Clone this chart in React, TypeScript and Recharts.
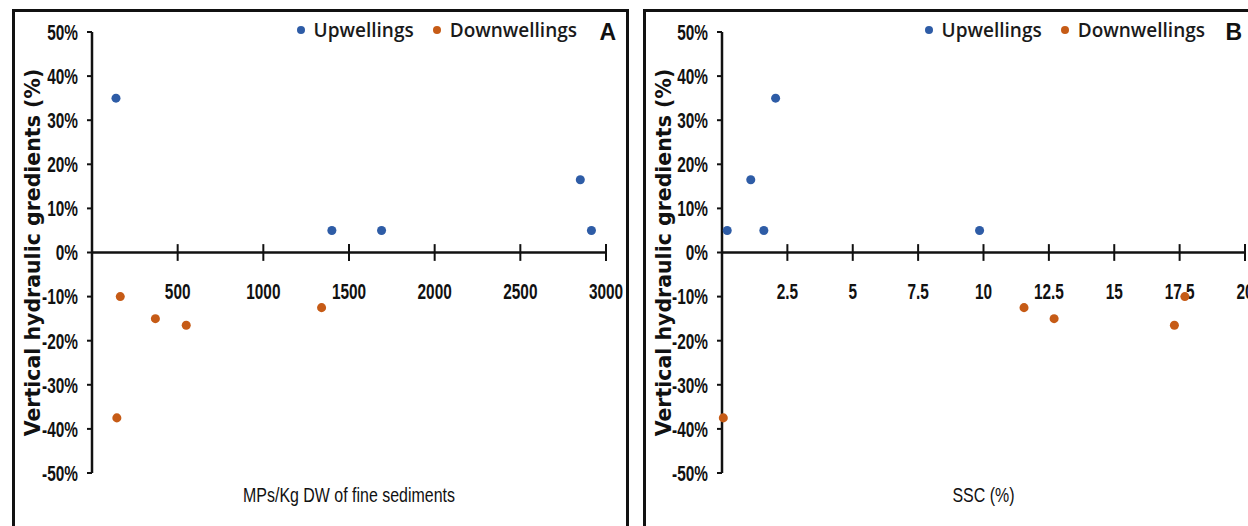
import { Label, Legend, ReferenceLine, Scatter, ScatterChart, XAxis, YAxis, ZAxis } from 'recharts';

// y values are vertical hydraulic gradients in %
const upA = [
  { x: 140, y: 35 },
  { x: 1400, y: 5 },
  { x: 1690, y: 5 },
  { x: 2850, y: 16.5 },
  { x: 2915, y: 5 }
];
const downA = [
  { x: 165, y: -10 },
  { x: 370, y: -15 },
  { x: 550, y: -16.5 },
  { x: 1340, y: -12.5 },
  { x: 145, y: -37.5 }
];
const upB = [
  { x: 0.2, y: 5 },
  { x: 1.1, y: 16.5 },
  { x: 1.6, y: 5 },
  { x: 2.05, y: 35 },
  { x: 9.85, y: 5 }
];
const downB = [
  { x: 0.05, y: -37.5 },
  { x: 11.55, y: -12.5 },
  { x: 12.7, y: -15 },
  { x: 17.3, y: -16.5 },
  { x: 17.7, y: -10 }
];

const yTicks = [-50, -40, -30, -20, -10, 0, 10, 20, 30, 40, 50];
const xTicksA = [500, 1000, 1500, 2000, 2500, 3000];
const xTicksB = [2.5, 5, 7.5, 10, 12.5, 15, 17.5, 20];
const seriesOrder = ['Upwellings', 'Downwellings'];

const BLUE = '#2E5CA6';
const ORANGE = '#C65B16';
const ARIAL = "'Liberation Sans', Arial, sans-serif";

// condensed look of the original's Calibri-style labels
const NarrowText = ({ x, y, text, anchor = 'middle', bold = true, size = 22, sx = 0.7, dy = '0.355em' }: any) => (
  <text
    transform={`translate(${x},${y}) scale(${sx},1)`}
    textAnchor={anchor}
    dy={dy}
    fill="#111"
    fontFamily={ARIAL}
    fontWeight={bold ? 700 : 400}
    fontSize={size}
  >
    {text}
  </text>
);

const YTick = ({ x, y, payload }: any) => <NarrowText x={x} y={y} text={`${payload.value}%`} anchor="end" />;

const LegendBox = ({ payload }: any) => {
  const items = seriesOrder.map((name) => (payload || []).find((p: any) => p.value === name)).filter(Boolean);
  return (
    <div style={{ display: 'flex', justifyContent: 'flex-end', gap: 19, fontFamily: "'Open Sans', sans-serif", fontWeight: 600, fontSize: 19, color: '#1a1a1a' }}>
      {items.map((item: any) => (
        <span key={item.value} style={{ display: 'flex', alignItems: 'center', gap: 9 }}>
          <svg width={8} height={8}>
            <circle cx={4} cy={4} r={4} fill={item.color} />
          </svg>
          {item.value}
        </span>
      ))}
    </div>
  );
};

function Panel({ left, width, yAxisWidth, up, down, xMax, xTicks, title, legendRight, letterRight, letter }: any) {
  return (
    <div style={{ position: 'absolute', left, top: 9, width, height: 517 }}>
      <ScatterChart width={width} height={517} margin={{ top: 23, right: 23, bottom: 13, left: 0 }}>
        <XAxis type="number" dataKey="x" domain={[0, xMax]} axisLine={false} tickLine={false} tick={false} height={40}>
          <Label
            position="insideTop"
            content={({ viewBox }: any) => (
              <NarrowText x={viewBox.x + viewBox.width / 2} y={viewBox.y + 22} text={title} bold={false} size={21} sx={0.76} />
            )}
          />
        </XAxis>
        <YAxis
          type="number"
          dataKey="y"
          domain={[-50, 50]}
          ticks={yTicks}
          width={yAxisWidth}
          axisLine={{ stroke: '#111', strokeWidth: 2.5 }}
          tickLine={{ stroke: '#111', strokeWidth: 2 }}
          tickSize={5}
          tickMargin={9}
          tick={<YTick />}
        >
          <Label
            value="Vertical hydraulic gredients (%)"
            angle={-90}
            position="insideLeft"
            offset={21}
            style={{ textAnchor: 'middle', fontFamily: "'DejaVu Sans', sans-serif", fontWeight: 700, fontSize: 20.5, fill: '#111' }}
          />
        </YAxis>
        <ZAxis range={[70, 70]} />
        <ReferenceLine y={0} stroke="#111" strokeWidth={2.5} />
        {xTicks.map((t: number) => (
          <ReferenceLine
            key={t}
            segment={[{ x: t, y: -1.9 }, { x: t, y: 1.9 }]}
            stroke="#111"
            strokeWidth={2}
            label={({ viewBox }: any) => (
              <NarrowText x={viewBox.x + viewBox.width / 2} y={viewBox.y + viewBox.height + 30} text={String(t)} />
            )}
          />
        ))}
        <Legend
          layout="horizontal"
          verticalAlign="middle"
          align="center"
          wrapperStyle={{ top: 8, right: legendRight }}
          content={<LegendBox />}
        />
        <Scatter name="Upwellings" data={up} fill={BLUE} isAnimationActive={false} />
        <Scatter name="Downwellings" data={down} fill={ORANGE} isAnimationActive={false} />
      </ScatterChart>
      <div style={{ position: 'absolute', top: 10, right: letterRight, fontFamily: ARIAL, fontWeight: 700, fontSize: 23, color: '#111' }}>
        {letter}
      </div>
    </div>
  );
}

export default function App() {
  return (
    <div style={{ position: 'absolute', left: 0, top: 0, width: 1248, height: 526, overflow: 'hidden', background: '#fff' }}>
      <div style={{ position: 'absolute', left: 12, top: 9, width: 617, height: 540, border: '3px solid #111', boxSizing: 'border-box' }} />
      <div style={{ position: 'absolute', left: 643, top: 9, width: 640, height: 540, border: '3px solid #111', boxSizing: 'border-box' }} />
      <Panel left={12} width={617} yAxisWidth={80} up={upA} down={downA} xMax={3000} xTicks={xTicksA} title="MPs/Kg DW of fine sediments" legendRight={52} letterRight={13} letter="A" />
      <Panel left={643} width={625} yAxisWidth={79} up={upB} down={downB} xMax={20} xTicks={xTicksB} title="SSC (%)" legendRight={63} letterRight={26} letter="B" />
    </div>
  );
}
